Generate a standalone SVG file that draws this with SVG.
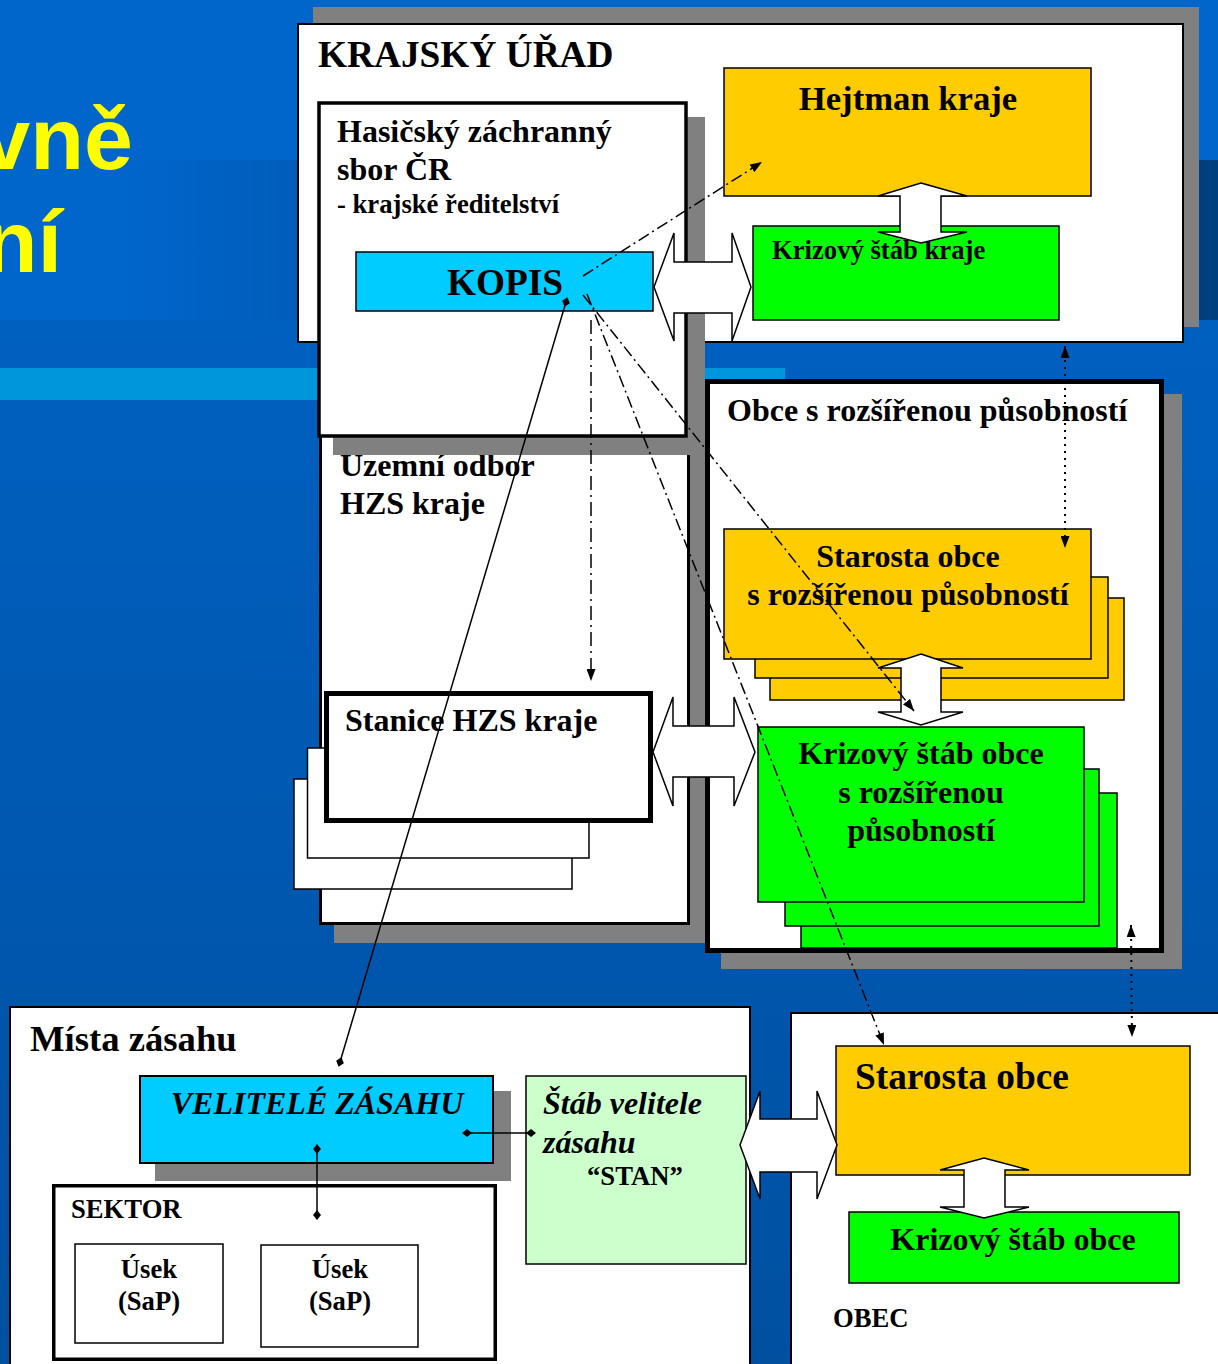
<svg xmlns="http://www.w3.org/2000/svg" width="1218" height="1364" viewBox="0 0 1218 1364">
<defs>
<linearGradient id="band" x1="0" y1="0" x2="1" y2="0">
<stop offset="0" stop-color="#0066CC"/><stop offset="0.1" stop-color="#0066CC"/><stop offset="0.26" stop-color="#005BB8"/><stop offset="1" stop-color="#004A94"/>
</linearGradient>
<linearGradient id="low" x1="0" y1="0" x2="0" y2="1">
<stop offset="0" stop-color="#0060C0"/><stop offset="1" stop-color="#0050A0"/>
</linearGradient>
<marker id="arr" viewBox="0 0 12 9" refX="12" refY="4.5" markerWidth="12" markerHeight="9" markerUnits="userSpaceOnUse" orient="auto-start-reverse">
<path d="M0,0 L12,4.5 L0,9 z" fill="#000"/>
</marker>
<marker id="dia" viewBox="0 0 10 8" refX="5" refY="4" markerWidth="10" markerHeight="8" markerUnits="userSpaceOnUse" orient="auto">
<path d="M0,4 L5,0 L10,4 L5,8 z" fill="#000"/>
</marker>
</defs>
<style>
.t{font-family:"Liberation Serif","Times New Roman",serif;font-weight:bold;fill:#000}
.s32{font-size:32px}
.s37{font-size:37.33px}
.s27{font-size:26.67px}
.it{font-style:italic}
.mid{text-anchor:middle}
.box{stroke:#000;stroke-width:1.5}
.sh{fill:#808080}
.w{fill:#fff}
.or{fill:#FFCC00}
.gr{fill:#00FF00}
.cy{fill:#00CCFF}
.ba{fill:#fff;stroke:#000;stroke-width:1.5;stroke-linejoin:miter}
.con{fill:none;stroke:#000;stroke-width:1.5}
.dd{stroke-dasharray:12 4 2 4}
.dd2{stroke-dasharray:14 5 2 5}
.dot{stroke-dasharray:2 5;stroke-width:2}
.yel{font-family:"Liberation Sans",Arial,sans-serif;font-weight:bold;font-size:88px;fill:#FFFF00;text-anchor:end}
</style>

<g id="background">
<rect x="0" y="0" width="1218" height="160" fill="#0066CC"/>
<rect x="0" y="160" width="1218" height="160" fill="url(#band)"/>
<rect x="1199" y="160" width="19" height="160" fill="#003F7F"/>
<rect x="0" y="320" width="1218" height="1044" fill="url(#low)"/>
<rect x="0" y="368" width="785" height="32" fill="#0096DC"/>
<text class="yel" x="133" y="169">vně</text>
<text class="yel" x="62" y="272">ní</text>
</g>

<g id="krajsky-urad">
<rect class="sh" x="313" y="7" width="886" height="320"/>
<rect class="w" x="298" y="24" width="885" height="318" stroke="#000" stroke-width="2"/>
<text class="t s37" x="318" y="67">KRAJSKÝ ÚŘAD</text>
</g>

<g id="uzemni-odbor">
<rect class="sh" x="334" y="395" width="371" height="548"/>
<rect class="w" x="320.5" y="380" width="368" height="543.5" stroke="#000" stroke-width="3"/>
<text class="t s32" x="340" y="476">Územní odbor</text>
<text class="t s32" x="340" y="514">HZS kraje</text>
</g>

<g id="hzs">
<rect class="sh" x="333" y="117" width="372" height="338"/>
<rect class="w" x="319" y="103" width="367" height="333" stroke="#000" stroke-width="3.5"/>
<text class="t s32" x="337" y="142">Hasičský záchranný</text>
<text class="t s32" x="337" y="180">sbor ČR</text>
<text class="t s27" x="337" y="213">- krajské ředitelství</text>
</g>

<g id="kopis">
<rect class="cy box" x="356" y="252" width="297" height="59"/>
<text class="t s37 mid" x="505" y="295">KOPIS</text>
</g>

<g id="hejtman">
<rect class="or box" x="724" y="68" width="367" height="128"/>
<text class="t mid" style="font-size:34.67px" x="908" y="110">Hejtman kraje</text>
</g>

<g id="ks-kraje">
<rect class="gr box" x="753" y="226" width="306" height="94"/>
<text class="t s27" x="772" y="259">Krizový štáb kraje</text>
</g>

<g id="orp">
<rect class="sh" x="721" y="394" width="461" height="575"/>
<rect class="w" x="707.5" y="381.5" width="454" height="569" stroke="#000" stroke-width="5"/>
<text class="t s32" x="727" y="421">Obce s rozšířenou působností</text>
</g>

<g id="starosta-orp">
<rect class="or box" x="770" y="598" width="354" height="102"/>
<rect class="or box" x="755" y="577" width="353" height="101"/>
<rect class="or box" x="724" y="529" width="367" height="130"/>
<text class="t s32 mid" x="908" y="567">Starosta obce</text>
<text class="t s32 mid" x="908" y="605">s rozšířenou působností</text>
</g>

<g id="ks-orp">
<rect class="gr box" x="801" y="793" width="316" height="155"/>
<rect class="gr box" x="785" y="769" width="314" height="157"/>
<rect class="gr box" x="758" y="727" width="326" height="175"/>
<text class="t s32 mid" x="921" y="764">Krizový štáb obce</text>
<text class="t s32 mid" x="921" y="803">s rozšířenou</text>
<text class="t s32 mid" x="921" y="841">působností</text>
</g>

<g id="stanice">
<rect class="w box" x="294" y="779" width="278" height="110"/>
<rect class="w box" x="307.5" y="748" width="281.5" height="110"/>
<rect class="w" x="326.5" y="693.5" width="324" height="127" stroke="#000" stroke-width="5"/>
<text class="t s32" x="345" y="731">Stanice HZS kraje</text>
</g>

<g id="mista-zasahu">
<rect class="w" x="10" y="1007" width="740" height="400" stroke="#000" stroke-width="2"/>
<text class="t" style="font-size:36.67px" x="30" y="1051">Místa zásahu</text>
</g>

<g id="velitele">
<rect class="sh" x="155" y="1091" width="356" height="90"/>
<rect class="cy" x="140" y="1076" width="353" height="87" stroke="#000" stroke-width="2"/>
<text class="t s32 it mid" x="317" y="1114">VELITELÉ ZÁSAHU</text>
</g>

<g id="sektor">
<rect class="w" x="53.75" y="1185.75" width="441.5" height="173.5" stroke="#000" stroke-width="3.5"/>
<text class="t s27" x="71" y="1218">SEKTOR</text>
</g>

<g id="usek1">
<rect class="w box" x="75" y="1244" width="148" height="99"/>
<text class="t s27 mid" x="149" y="1278">Úsek</text>
<text class="t s27 mid" x="149" y="1310">(SaP)</text>
</g>

<g id="usek2">
<rect class="w box" x="261" y="1245" width="157" height="102"/>
<text class="t s27 mid" x="340" y="1278">Úsek</text>
<text class="t s27 mid" x="340" y="1310">(SaP)</text>
</g>

<g id="stab-velitele">
<rect class="box" fill="#CCFFCC" x="526" y="1076" width="220" height="188"/>
<text class="t s32 it" x="543" y="1114">Štáb velitele</text>
<text class="t s32 it" x="543" y="1153">zásahu</text>
<text class="t s27" x="587" y="1185">“STAN”</text>
</g>

<g id="obec">
<rect class="w" x="791" y="1013" width="440" height="400" stroke="#000" stroke-width="2"/>
<text class="t s27" x="833" y="1327">OBEC</text>
</g>

<g id="starosta-obce">
<rect class="or box" x="836" y="1046" width="354" height="129"/>
<text class="t s37" x="855" y="1089">Starosta obce</text>
</g>

<g id="ks-obce">
<rect class="gr box" x="849" y="1212" width="330" height="71"/>
<text class="t s32 mid" x="1013" y="1250">Krizový štáb obce</text>
</g>

<g id="block-arrows">
<polygon class="ba" points="921,183 967,196 941,196 941,232 967,232 921,243 878,232 900,232 900,196 878,196"/>
<polygon class="ba" points="654,287 674,233 674,262 732,262 732,233 751,287 732,341 732,313 674,313 674,341"/>
<polygon class="ba" points="921,654 963,668 941,668 941,712 963,712 921,725 878,712 901,712 901,668 878,668"/>
<polygon class="ba" points="653,752 673,697 673,726 734,726 734,697 755,752 734,806 734,777 673,777 673,806"/>
<polygon class="ba" points="740,1145 760,1091 760,1119 817,1119 817,1091 837,1145 817,1199 817,1172 760,1172 760,1199"/>
<polygon class="ba" points="984,1158 1029,1170 1005,1170 1005,1207 1029,1207 984,1218 940,1207 964,1207 964,1170 940,1170"/>
</g>

<g id="connectors">
<line class="con dd" x1="583" y1="276" x2="762" y2="162" marker-end="url(#arr)"/>
<line class="con" x1="566" y1="302" x2="340" y2="1062" marker-start="url(#dia)" marker-end="url(#dia)"/>
<line class="con dd2" x1="591" y1="320" x2="591" y2="681" marker-end="url(#arr)"/>
<line class="con dd" x1="583" y1="295" x2="914" y2="711" marker-end="url(#arr)"/>
<line class="con dd" x1="587" y1="294" x2="884" y2="1045" marker-end="url(#arr)"/>
<line class="con dot" x1="1065" y1="346" x2="1065" y2="548" marker-start="url(#arr)" marker-end="url(#arr)"/>
<line class="con dot" x1="1131" y1="925" x2="1132" y2="1037" marker-start="url(#arr)" marker-end="url(#arr)"/>
<line class="con" x1="467" y1="1133" x2="531" y2="1133" marker-start="url(#dia)" marker-end="url(#dia)"/>
<line class="con" x1="317" y1="1149" x2="317" y2="1215" marker-start="url(#dia)" marker-end="url(#dia)"/>
</g>
</svg>
